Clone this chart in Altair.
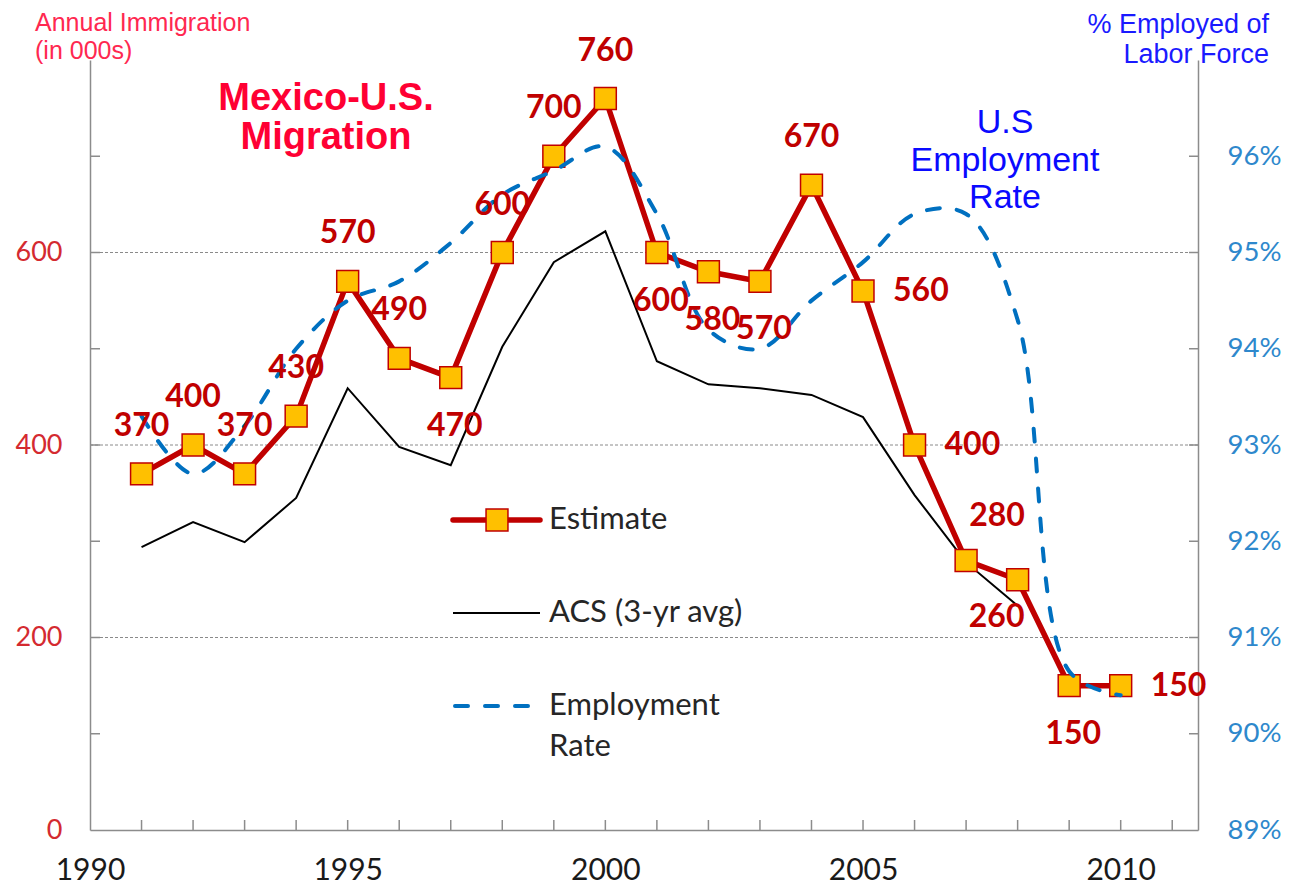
import altair as alt
import pandas as pd

# ---------------- data ----------------
years = [1991, 1992, 1993, 1994, 1995, 1996, 1997, 1998, 1999, 2000,
         2001, 2002, 2003, 2004, 2005, 2006, 2007, 2008, 2009, 2010]
estimate = [370, 400, 370, 430, 570, 490, 470, 600, 700, 760,
            600, 580, 570, 670, 560, 400, 280, 260, 150, 150]
label_place = ["above", "above", "above", "above", "above", "above", "below", "above", "above", "above",
               "below", "below", "below", "above", "right", "right", "aboveright", "belowleft", "below", "right"]
acs_years = [1991, 1992, 1993, 1994, 1995, 1996, 1997, 1998, 1999, 2000,
             2001, 2002, 2003, 2004, 2005, 2006, 2007, 2008]
acs_values = [294, 320, 299, 345, 459, 398, 379, 502, 590, 622,
              487, 463, 459, 452, 429, 348, 278, 233]
employment_rate = [93.3, 92.7, 93.2, 94.0, 94.5, 94.7, 95.1, 95.6, 95.85, 96.1,
                   95.4, 94.2, 94.0, 94.5, 94.9, 95.4, 95.4, 94.3, 90.65, 90.4]

x_label_years = [1990, 1995, 2000, 2005, 2010]
x_tick_years = [1991, 1992, 1993, 1994, 1995, 1996, 1997, 1998, 1999, 2000, 2001,
                2002, 2003, 2004, 2005, 2006, 2007, 2008, 2009, 2010, 2011]
left_label_values = [0, 200, 400, 600]
left_tick_values = [100, 200, 300, 400, 500, 600, 700]
grid_values = [200, 400, 600]
right_label_values = [89, 90, 91, 92, 93, 94, 95, 96]
right_tick_values = [90, 91, 92, 93, 94, 95, 96]

# ---------------- style ----------------
W, H = 1108, 770
RED = "#C00000"
GOLD = "#FFC000"
BLUE_LINE = "#0070C0"
AXIS_GRAY = "#8C8C8C"
NUM_FONT = "Lato"
ANN_FONT = "Liberation Sans"

est_df = pd.DataFrame({"year": years, "value": estimate, "place": label_place})
acs_df = pd.DataFrame({"year": acs_years, "value": acs_values})
emp_df = pd.DataFrame({"year": years, "rate": employment_rate})
grid_df = pd.DataFrame({"value": grid_values})
xt_df = pd.DataFrame({"year": x_tick_years})
lt_df = pd.DataFrame({"value": left_tick_values})
rt_df = pd.DataFrame({"rate": right_tick_values})
one = pd.DataFrame({"k": [0]})

x_axis = alt.Axis(values=x_label_years, format="d", tickSize=0, labelPadding=25, labelFlush=False,
                  labelFont=NUM_FONT, labelFontSize=30, labelColor="#1a1a1a",
                  domainColor=AXIS_GRAY, domainWidth=1.5, grid=False, title=None)
X = alt.X("year:Q", scale=alt.Scale(domain=[1990, 2011.5], nice=False, zero=False), axis=x_axis)

y_left_scale = alt.Scale(domain=[0, 800], nice=False, zero=False)
y_left_axis = alt.Axis(values=left_label_values, tickSize=0, labelPadding=28,
                       labelFont=NUM_FONT, labelFontSize=27, labelColor="#D42A30",
                       domainColor=AXIS_GRAY, domainWidth=1.5, grid=False, title=None)
YL = alt.Y("value:Q", scale=y_left_scale, axis=y_left_axis)
YL_noaxis = alt.Y("value:Q", scale=y_left_scale, axis=None)

y_right_axis = alt.Axis(orient="right", values=right_label_values, labelExpr="datum.value + '%'",
                        tickSize=0, labelPadding=29, labelFont=NUM_FONT, labelFontSize=27.5,
                        labelColor="#2E88CC", domainColor=AXIS_GRAY, domainWidth=1.5,
                        grid=False, title=None)
YR = alt.Y("rate:Q", scale=alt.Scale(domain=[89, 97], nice=False, zero=False), axis=y_right_axis)

# ---------------- left group ----------------
grid = alt.Chart(grid_df).mark_rule(color="#8a8a8a", strokeDash=[3, 2], strokeWidth=1).encode(
    y=YL, x=alt.value(0), x2=alt.value(W))
xticks = alt.Chart(xt_df).mark_rule(color=AXIS_GRAY, strokeWidth=1.5).encode(
    x=X, y=alt.value(H - 10), y2=alt.value(H))
lticks = alt.Chart(lt_df).mark_rule(color=AXIS_GRAY, strokeWidth=1.5).encode(
    y=YL, x=alt.value(0), x2=alt.value(10))
acs_line = alt.Chart(acs_df).mark_line(color="#000000", strokeWidth=2).encode(x=X, y=YL)
est_line = alt.Chart(est_df).mark_line(color=RED, strokeWidth=5.5).encode(x=X, y=YL)
est_pts = alt.Chart(est_df).mark_square(size=480, color=GOLD, stroke=RED, strokeWidth=1.5,
                                        opacity=1).encode(x=X, y=YL)
left = alt.layer(grid, xticks, lticks, acs_line, est_line, est_pts)

# ---------------- right group ----------------
emp_line = alt.Chart(emp_df).mark_line(color=BLUE_LINE, strokeWidth=4, strokeDash=[13, 17],
                                       strokeCap="round", interpolate="catmull-rom").encode(x=X, y=YR)
rticks = alt.Chart(rt_df).mark_rule(color=AXIS_GRAY, strokeWidth=1.5).encode(
    y=YR, x=alt.value(W - 9), x2=alt.value(W))
right = alt.layer(emp_line, rticks)

# ---------------- labels / annotations ----------------
placements = {
    "above": dict(dx=0, dy=-48, align="center"),
    "below": dict(dx=4, dy=48, align="center"),
    "right": dict(dx=30, dy=0, align="left"),
    "aboveright": dict(dx=31, dy=-45, align="center"),
    "belowleft": dict(dx=-21, dy=37, align="center"),
}
label_layers = []
for place, opts in placements.items():
    label_layers.append(
        alt.Chart(est_df).transform_filter(alt.datum.place == place).mark_text(
            font=NUM_FONT, fontSize=32, fontWeight="bold", color=RED, baseline="middle", **opts
        ).encode(x=X, y=YL_noaxis, text=alt.Text("value:Q"))
    )


def txt(lines, x, y, **kw):
    return alt.Chart(one).mark_text(text=lines, **kw).encode(x=alt.value(x), y=alt.value(y))


ann = [
    txt(["Mexico-U.S.", "Migration"], 236, 50, font=ANN_FONT, fontSize=38, fontWeight="bold",
        color="#FF0033", align="center", baseline="alphabetic", lineHeight=39),
    txt(["U.S", "Employment", "Rate"], 915, 73, font=ANN_FONT, fontSize=34,
        color="#0A0AFF", align="center", baseline="alphabetic", lineHeight=37.5),
    txt(["Annual Immigration", "(in 000s)"], -55, -29, font=ANN_FONT, fontSize=25,
        color="#FF2850", align="left", baseline="alphabetic", lineHeight=28),
    txt(["% Employed of", "Labor Force"], 1179, -27, font=ANN_FONT, fontSize=27,
        color="#1A1AFF", align="right", baseline="alphabetic", lineHeight=30),
]

# legend
leg_x0, leg_x1, leg_tx = 363, 450, 459
leg = [
    alt.Chart(one).mark_rule(color=RED, strokeWidth=5.5, strokeCap="round").encode(
        x=alt.value(leg_x0), x2=alt.value(leg_x1), y=alt.value(460)),
    alt.Chart(one).mark_square(size=480, color=GOLD, stroke=RED, strokeWidth=1.5, opacity=1).encode(
        x=alt.value(407), y=alt.value(460)),
    txt("Estimate", leg_tx, 460, font=NUM_FONT, fontSize=31, color="#262626", align="left",
        baseline="middle"),
    alt.Chart(one).mark_rule(color="#000000", strokeWidth=2).encode(
        x=alt.value(leg_x0), x2=alt.value(leg_x1), y=alt.value(553)),
    txt("ACS (3-yr avg)", leg_tx, 553, font=NUM_FONT, fontSize=31, color="#262626", align="left",
        baseline="middle"),
    alt.Chart(one).mark_rule(color=BLUE_LINE, strokeWidth=4, strokeDash=[13, 17], strokeCap="round").encode(
        x=alt.value(leg_x0 + 2), x2=alt.value(leg_x1), y=alt.value(646)),
    txt(["Employment", "Rate"], leg_tx, 646, font=NUM_FONT, fontSize=31, color="#262626", align="left",
        baseline="middle", lineHeight=41),
]

labels = alt.layer(*label_layers, *ann, *leg)

chart = alt.layer(left, right, labels).resolve_scale(y="independent").properties(
    width=W, height=H,
    padding={"left": 82, "top": 52, "right": 86, "bottom": 56},
    autosize=alt.AutoSizeParams(type="none"),
).configure_view(stroke=None)

chart.save("out.html", embed_options={"renderer": "svg", "actions": False})
